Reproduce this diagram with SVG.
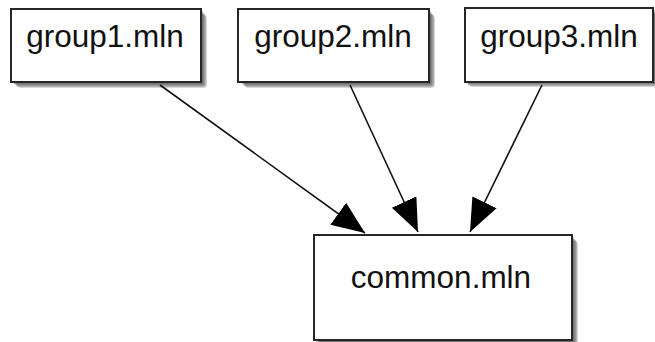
<svg xmlns="http://www.w3.org/2000/svg" width="655" height="342" viewBox="0 0 655 342">
  <style>
    .box { fill: #ffffff; stroke: #262626; stroke-width: 2; }
    .shadow rect { fill: #3c3c3c; opacity: 0.22; }
    .label { font-family: "Liberation Sans", Arial, sans-serif; font-size: 31.5px; fill: #111111; text-anchor: middle; }
    .edge { stroke: #111111; stroke-width: 1.6; fill: none; marker-end: url(#head); }
  </style>
  <defs>
    <marker id="head" markerUnits="userSpaceOnUse" markerWidth="34" markerHeight="28" refX="33" refY="13.5" orient="auto">
      <path d="M0,0 L33,13.5 L0,27 z" fill="#000000"/>
    </marker>
    <!-- soft drop shadow built from stacked translucent copies -->
    <g id="shadow1" class="shadow">
      <rect x="2" y="2" width="190" height="73" rx="1"/>
      <rect x="3" y="3" width="190" height="73" rx="2"/>
      <rect x="4" y="4" width="190" height="73" rx="3"/>
      <rect x="5" y="5" width="190" height="73" rx="3"/>
      <rect x="6" y="6" width="190" height="73" rx="4"/>
    </g>
  </defs>
  <rect width="655" height="342" fill="#ffffff"/>

  <g id="group1">
    <use href="#shadow1" x="11" y="9"/>
    <rect class="box" x="11" y="9" width="190" height="73"/>
    <text class="label" x="105" y="47">group1.mln</text>
  </g>

  <g id="group2">
    <use href="#shadow1" x="239" y="9"/>
    <rect class="box" x="238" y="9" width="191" height="73"/>
    <text class="label" x="333" y="47">group2.mln</text>
  </g>

  <g id="group3">
    <use href="#shadow1" x="463" y="8"/>
    <rect class="box" x="465" y="8" width="188" height="74"/>
    <text class="label" x="559" y="47">group3.mln</text>
  </g>

  <g id="common">
    <g class="shadow">
      <rect x="316" y="237" width="258" height="110" rx="1"/>
      <rect x="317" y="238" width="258" height="110" rx="2"/>
      <rect x="318" y="239" width="258" height="110" rx="3"/>
      <rect x="319" y="240" width="258" height="110" rx="3"/>
      <rect x="320" y="241" width="258" height="110" rx="4"/>
    </g>
    <rect class="box" x="314" y="235" width="258" height="105"/>
    <text class="label" x="441" y="288">common.mln</text>
  </g>

  <g id="connectors">
    <line class="edge" x1="160" y1="85" x2="365" y2="233"/>
    <line class="edge" x1="350" y1="85" x2="418" y2="232"/>
    <line class="edge" x1="542" y1="85" x2="470" y2="232"/>
  </g>
</svg>
